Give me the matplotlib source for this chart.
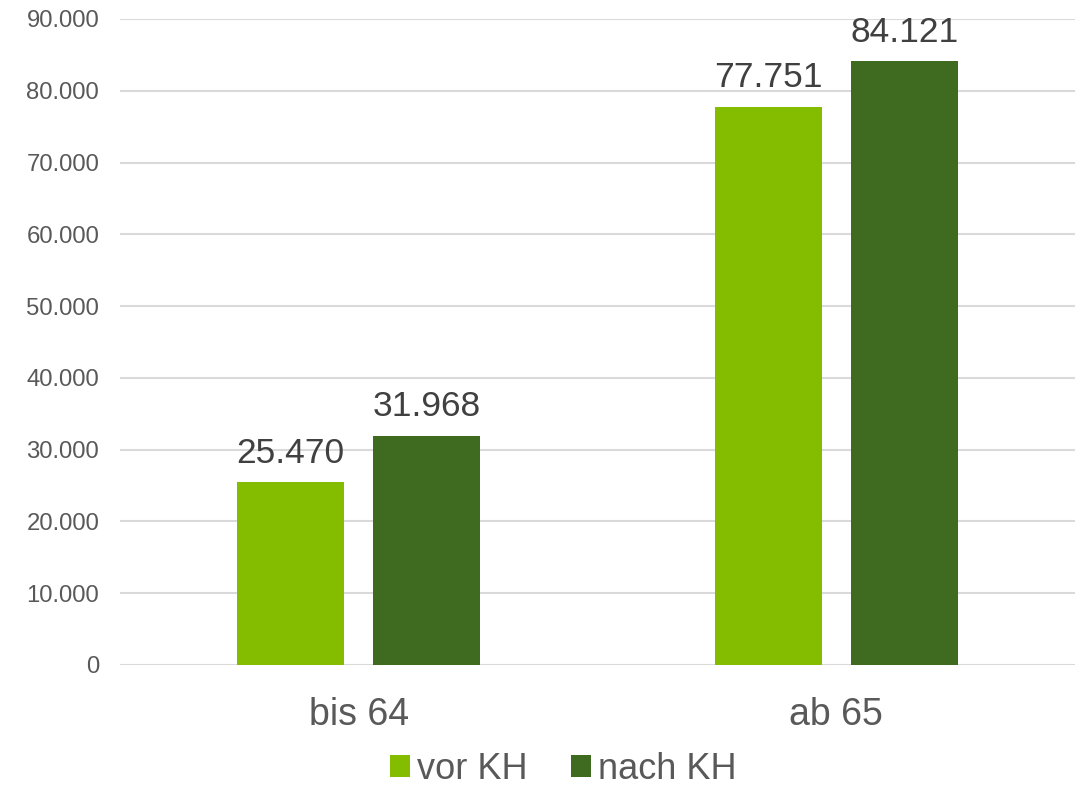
import numpy as np
import matplotlib
matplotlib.use("Agg")
import matplotlib.pyplot as plt
from matplotlib.ticker import FuncFormatter

# --- data ---
categories = ["bis 64", "ab 65"]
series_names = ["vor KH", "nach KH"]
vor_kh = [25470, 77751]
nach_kh = [31968, 84121]
colors = ["#84BD00", "#3E6B1F"]
y_ticks = np.arange(0, 90001, 10000)

plt.rcParams['font.family'] = ['Liberation Sans', 'DejaVu Sans']
TEXT = "#595959"


def de_fmt(v, pos=None):
    return f"{int(round(v)):,}".replace(",", ".")


fig = plt.figure(figsize=(10.83, 7.91), dpi=100)
ax = fig.add_axes([0.1108, 0.1593, 0.8818, 0.8167])

x = np.arange(len(categories))
w = 0.224
off = 0.1425
for vals, name, col, dx in [(vor_kh, series_names[0], colors[0], -off),
                            (nach_kh, series_names[1], colors[1], off)]:
    bars = ax.bar(x + dx, vals, width=w, color=col, label=name, zorder=3)
    for b, v in zip(bars, vals):
        ax.annotate(de_fmt(v), (b.get_x() + b.get_width() / 2, v),
                    xytext=(0, 9), textcoords="offset points",
                    ha="center", va="bottom", fontsize=25.5, color="#404040")

ax.set_xlim(-0.5, 1.5)
ax.set_ylim(0, 90000)
ax.set_yticks(y_ticks)
ax.yaxis.set_major_formatter(FuncFormatter(de_fmt))
ax.set_xticks(x)
ax.set_xticklabels(categories)
ax.tick_params(axis="y", length=0, pad=15, labelsize=17.2, labelcolor=TEXT)
ax.tick_params(axis="x", length=0, pad=23, labelsize=27, labelcolor=TEXT)
ax.grid(axis="y", color="#D9D9D9", linewidth=1.5, zorder=0)
for s in ax.spines.values():
    s.set_visible(False)

fig.legend(loc="lower center", bbox_to_anchor=(0.52, -0.036), ncol=2,
           frameon=False, fontsize=26, labelcolor=TEXT,
           handlelength=0.55, handleheight=0.55, handletextpad=0.2,
           columnspacing=1.2)

plt.savefig("out.png", dpi=100)
